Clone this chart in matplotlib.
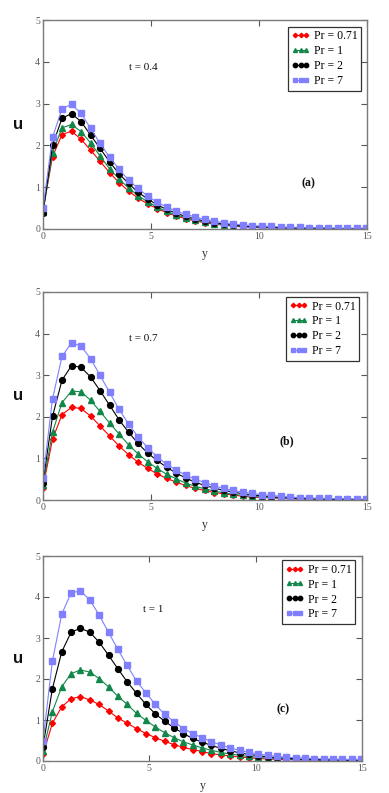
import matplotlib
matplotlib.use("Agg")
import matplotlib.pyplot as plt
import numpy as np

# ---------------- data ----------------
y_pos = [0.00, 0.44, 0.88, 1.32, 1.76, 2.20, 2.64, 3.08, 3.52, 3.96, 4.40, 4.84,
         5.28, 5.72, 6.16, 6.60, 7.04, 7.48, 7.92, 8.36, 8.80, 9.24, 9.68, 10.12,
         10.56, 11.00, 11.44, 11.88, 12.32, 12.76, 13.20, 13.64, 14.08, 14.52, 14.96]

labels = ["Pr = 0.71", "Pr = 1", "Pr = 2", "Pr = 7"]
times = ["t = 0.4", "t = 0.7", "t = 1"]
panel_tags = ["(a)", "(b)", "(c)"]

# panel (a) t = 0.4
a_pr071 = [0.45, 1.73, 2.26, 2.34, 2.15, 1.89, 1.62, 1.35, 1.11, 0.91, 0.74, 0.60, 0.49, 0.39, 0.31, 0.25, 0.19, 0.15,
           0.12, 0.09, 0.07, 0.05, 0.04, 0.03, 0.03, 0.02, 0.02, 0.01, 0.01, 0.01, 0.01, 0.01, 0.01, 0.01, 0.01]
a_pr1 = [0.40, 1.83, 2.42, 2.50, 2.33, 2.06, 1.75, 1.44, 1.20, 0.98, 0.80, 0.65, 0.53, 0.42, 0.34, 0.27, 0.21, 0.17,
         0.13, 0.10, 0.08, 0.06, 0.05, 0.04, 0.03, 0.03, 0.02, 0.02, 0.01, 0.01, 0.01, 0.01, 0.01, 0.01, 0.01]
a_pr2 = [0.39, 2.00, 2.65, 2.76, 2.57, 2.25, 1.93, 1.61, 1.32, 1.09, 0.88, 0.72, 0.58, 0.47, 0.38, 0.30, 0.24, 0.19,
         0.15, 0.12, 0.09, 0.07, 0.06, 0.05, 0.04, 0.03, 0.03, 0.02, 0.02, 0.02, 0.01, 0.01, 0.01, 0.01, 0.01]
a_pr7 = [0.50, 2.19, 2.88, 2.98, 2.77, 2.41, 2.05, 1.72, 1.43, 1.17, 0.97, 0.79, 0.64, 0.53, 0.43, 0.35, 0.29, 0.23,
         0.19, 0.15, 0.12, 0.10, 0.08, 0.07, 0.06, 0.05, 0.04, 0.04, 0.03, 0.03, 0.03, 0.02, 0.02, 0.02, 0.02]

# panel (b) t = 0.7
b_pr071 = [0.30, 1.46, 2.05, 2.23, 2.20, 2.02, 1.78, 1.54, 1.30, 1.09, 0.91, 0.76, 0.63, 0.52, 0.43, 0.35, 0.28, 0.23,
           0.18, 0.15, 0.12, 0.09, 0.07, 0.06, 0.05, 0.04, 0.03, 0.02, 0.02, 0.02, 0.01, 0.01, 0.01, 0.01, 0.01]
b_pr1 = [0.35, 1.63, 2.34, 2.62, 2.60, 2.40, 2.13, 1.85, 1.59, 1.33, 1.11, 0.92, 0.76, 0.62, 0.51, 0.41, 0.33, 0.27,
         0.22, 0.17, 0.14, 0.11, 0.09, 0.07, 0.06, 0.05, 0.04, 0.03, 0.02, 0.02, 0.02, 0.01, 0.01, 0.01, 0.01]
b_pr2 = [0.42, 2.01, 2.88, 3.23, 3.19, 2.96, 2.63, 2.28, 1.93, 1.63, 1.36, 1.13, 0.95, 0.79, 0.65, 0.53, 0.43, 0.35,
         0.29, 0.23, 0.19, 0.15, 0.12, 0.10, 0.08, 0.06, 0.05, 0.04, 0.03, 0.03, 0.02, 0.02, 0.02, 0.01, 0.01]
b_pr7 = [0.52, 2.43, 3.45, 3.78, 3.70, 3.40, 3.00, 2.59, 2.18, 1.83, 1.52, 1.26, 1.04, 0.86, 0.72, 0.60, 0.50, 0.42,
         0.34, 0.28, 0.23, 0.19, 0.16, 0.13, 0.11, 0.09, 0.07, 0.06, 0.05, 0.04, 0.04, 0.03, 0.03, 0.02, 0.02]

# panel (c) t = 1
c_pr071 = [0.16, 0.92, 1.32, 1.52, 1.57, 1.49, 1.38, 1.22, 1.05, 0.92, 0.79, 0.67, 0.57, 0.48, 0.40, 0.33, 0.28, 0.23,
           0.18, 0.15, 0.12, 0.10, 0.08, 0.06, 0.05, 0.04, 0.03, 0.03, 0.02, 0.02, 0.01, 0.01, 0.01, 0.01, 0.01]
c_pr1 = [0.24, 1.20, 1.81, 2.13, 2.22, 2.17, 2.01, 1.81, 1.58, 1.38, 1.16, 0.99, 0.83, 0.69, 0.57, 0.47, 0.39, 0.32,
         0.26, 0.21, 0.17, 0.14, 0.11, 0.09, 0.07, 0.06, 0.05, 0.04, 0.03, 0.03, 0.02, 0.02, 0.02, 0.01, 0.01]
c_pr2 = [0.35, 1.76, 2.66, 3.14, 3.24, 3.14, 2.90, 2.58, 2.25, 1.93, 1.65, 1.38, 1.15, 0.97, 0.81, 0.67, 0.55, 0.46,
         0.38, 0.31, 0.25, 0.20, 0.16, 0.13, 0.10, 0.08, 0.07, 0.05, 0.04, 0.04, 0.03, 0.03, 0.02, 0.02, 0.02]
c_pr7 = [0.49, 2.43, 3.58, 4.10, 4.15, 3.93, 3.56, 3.14, 2.72, 2.33, 1.95, 1.66, 1.38, 1.14, 0.96, 0.79, 0.67, 0.57,
         0.47, 0.39, 0.32, 0.26, 0.21, 0.17, 0.14, 0.11, 0.09, 0.08, 0.07, 0.06, 0.05, 0.05, 0.04, 0.04, 0.04]

x_ticks = [0, 5, 10, 15]
y_ticks = [0, 1, 2, 3, 4, 5]

panels = [
    [a_pr071, a_pr1, a_pr2, a_pr7],
    [b_pr071, b_pr1, b_pr2, b_pr7],
    [c_pr071, c_pr1, c_pr2, c_pr7],
]

# ---------------- style ----------------
colors = ["#ff0000", "#12874a", "#000000", "#8080ff"]
markers = ["D", "^", "o", "s"]
msizes = [3.0, 3.8, 4.2, 4.3]
serif = ["Liberation Serif", "DejaVu Serif"]

W, H = 389, 793
fig = plt.figure(figsize=(W / 100, H / 100), dpi=100)
fig.patch.set_facecolor("white")

# pixel boxes: (left, top, right, bottom)
boxes = [(43, 20, 367, 229), (43, 292, 367, 500), (43, 556, 362, 761)]
legend_anchor = [(0.981, 0.967), (0.975, 0.976), (0.978, 0.980)]
t_pos = [(4.63, 3.87), (4.63, 3.89), (5.17, 3.70)]
tag_pos = [(12.3, 1.10), (11.3, 1.42), (11.3, 1.27)]

for i, (l, t, r, b) in enumerate(boxes):
    ax = fig.add_axes([l / W, 1 - b / H, (r - l) / W, (b - t) / H])
    for j in range(4):
        ax.plot(y_pos, panels[i][j], color=colors[j], lw=0.8, marker=markers[j],
                ms=msizes[j], mec=colors[j], mfc=colors[j], label=labels[j])
    ax.set_xlim(0, 15)
    ax.set_ylim(0, 5)
    ax.set_xticks(x_ticks)
    ax.set_yticks(y_ticks)
    for s in ax.spines.values():
        s.set_color("#7a7a7a")
        s.set_linewidth(1.0)
    ax.tick_params(direction="in", length=4, width=0.8, colors="#555555",
                   top=True, right=True, labelsize=7, pad=2)
    for lab in ax.get_xticklabels() + ax.get_yticklabels():
        lab.set_family(serif)
    ax.set_xlabel("y", family=serif, fontsize=8.5, color="#333333", labelpad=5)
    ax.set_ylabel("u", family=["Liberation Sans", "DejaVu Sans"], fontsize=12,
                  fontweight="bold", rotation=0, color="#111111", labelpad=12, va="center")
    ax.text(t_pos[i][0], t_pos[i][1], times[i], family=serif, fontsize=8,
            ha="center", va="center", color="#111111")
    ax.text(tag_pos[i][0], tag_pos[i][1], panel_tags[i], family=serif, fontsize=8.5,
            fontweight="bold", ha="center", va="center", color="#111111")
    leg = ax.legend(loc="upper right", bbox_to_anchor=legend_anchor[i], borderaxespad=0,
                    numpoints=3, handlelength=1.5, handletextpad=0.35, labelspacing=0.25,
                    borderpad=0.3, fancybox=False, framealpha=1,
                    prop={"family": serif, "size": 8.5}, markerscale=0.75)
    leg.get_frame().set_edgecolor("#333333")
    leg.get_frame().set_linewidth(0.9)

fig.savefig("out.png", dpi=100, facecolor="white")
